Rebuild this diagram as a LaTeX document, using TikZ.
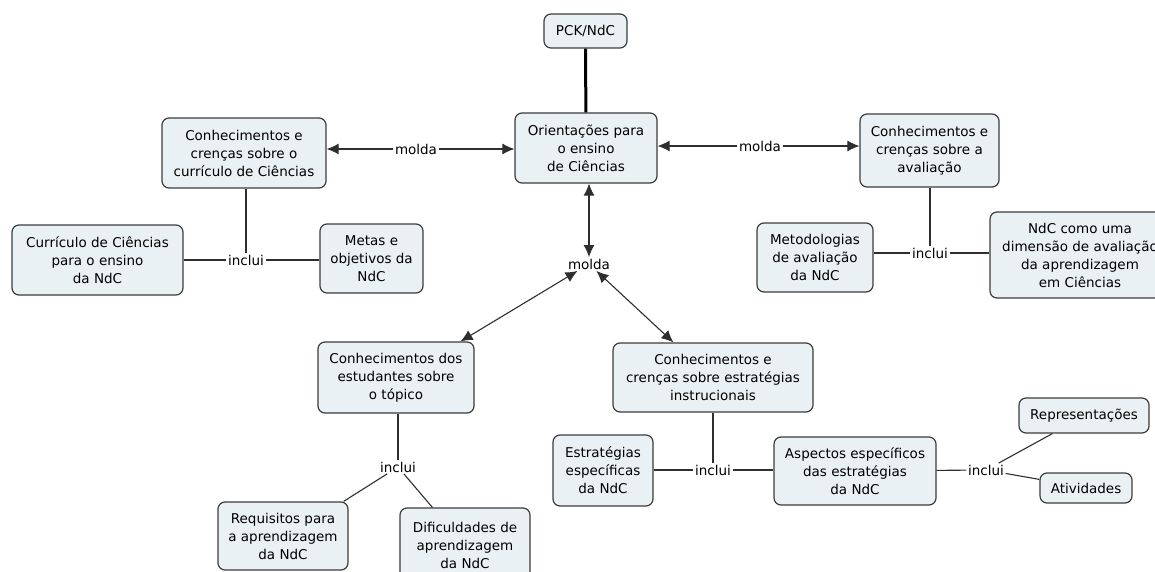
\documentclass[tikz,border=0pt]{standalone}
\usepackage{fontspec}
\setmainfont{DejaVu Sans}
\usetikzlibrary{arrows.meta,calc}
\definecolor{boxfill}{HTML}{EAF1F4}
\definecolor{boxline}{HTML}{3C3C3C}
\definecolor{edge}{HTML}{2E2E2E}
\begin{document}
\begin{tikzpicture}[x=1pt,y=-1pt,
  txt/.style={font=\fontsize{13.5}{18}\selectfont},
  box/.style={txt,draw=boxline,line width=1.2pt,fill=boxfill,rounded corners=7pt,align=center,inner sep=0pt},
  lbl/.style={txt,fill=white,inner sep=1.5pt},
  ln/.style={draw=edge,line width=1.1pt},
  tip/.tip={Latex[length=12pt,width=11pt]},
  arr/.style={ln,-tip},
  darr/.style={ln,tip-tip}]
\useasboundingbox (0,0) rectangle (1155,572);
\clip (0,0) rectangle (1155,572);

% concept boxes
\node[box,minimum width=83pt,minimum height=34pt] (PCK) at (585.5,31) {PCK/NdC};
\node[box,minimum width=142pt,minimum height=70pt] (Ori) at (586,148) {Orientações para\\o ensino\\de Ciências};
\node[box,minimum width=164pt,minimum height=70pt] (Cur) at (244,153) {Conhecimentos e\\crenças sobre o\\currículo de Ciências};
\node[box,minimum width=139pt,minimum height=73pt] (Ava) at (929.5,150.5) {Conhecimentos e\\crenças sobre a\\avaliação};
\node[box,minimum width=171pt,minimum height=70pt] (CurC) at (97.5,260) {Currículo de Ciências\\para o ensino\\da NdC};
\node[box,minimum width=103pt,minimum height=69pt] (Metas) at (371.5,258.5) {Metas e\\objetivos da\\NdC};
\node[box,minimum width=116pt,minimum height=69pt] (Metod) at (815,257.5) {Metodologias\\de avaliação\\da NdC};
\node[box,minimum width=180pt,minimum height=86pt] (NdC) at (1080,255) {NdC como uma\\dimensão de avaliação\\da aprendizagem\\em Ciências};
\node[box,minimum width=156pt,minimum height=71pt] (Est) at (396,377.5) {Conhecimentos dos\\estudantes sobre\\o tópico};
\node[box,minimum width=200pt,minimum height=69pt] (Estr) at (713,377.5) {Conhecimentos e\\crenças sobre estratégias\\instrucionais};
\node[box,minimum width=130pt,minimum height=68pt] (Req) at (283,536) {Requisitos para\\a aprendizagem\\da NdC};
\node[box,minimum width=130pt,minimum height=74pt] (Dif) at (465,545) {Dificuldades de\\aprendizagem\\da NdC};
\node[box,minimum width=100pt,minimum height=71pt] (EstEsp) at (603,470.5) {Estratégias\\específicas\\da NdC};
\node[box,minimum width=162pt,minimum height=68pt] (Asp) at (855,471) {Aspectos específicos\\das estratégias\\da NdC};
\node[box,minimum width=130pt,minimum height=35pt] (Rep) at (1084,415.5) {Representações};
\node[box,minimum width=92pt,minimum height=30pt] (Ativ) at (1086,488) {Atividades};

% linking phrases
\node[lbl] (moldaL) at (416,149) {molda};
\node[lbl] (moldaR) at (760,146) {molda};
\node[lbl] (moldaC) at (589,264) {molda};
\node[lbl] (incluiL) at (246,260) {inclui};
\node[lbl] (incluiR) at (930,253) {inclui};
\node[lbl] (incluiE) at (398,467) {inclui};
\node[lbl] (incluiM) at (713,470) {inclui};
\node[lbl] (incluiA) at (986,470) {inclui};

% connectors
\draw[line width=3pt,black] (PCK) -- (Ori);
\draw[arr] (moldaL) -- (moldaL -| Cur.east);
\draw[arr] (moldaL) -- (moldaL -| Ori.west);
\draw[arr] (moldaR) -- (moldaR -| Ori.east);
\draw[arr] (moldaR) -- (moldaR -| Ava.west);
\draw[darr] (moldaC |- Ori.south) -- (moldaC);
\draw[darr] (moldaC) -- ([xshift=-14pt]Est.north east);
\draw[darr] (moldaC) -- ([xshift=61pt]Estr.north west);

\draw[ln] (incluiL |- Cur.south) -- (incluiL);
\draw[ln] (incluiL) -- (incluiL -| CurC.east);
\draw[ln] (incluiL) -- (incluiL -| Metas.west);

\draw[ln] (incluiR |- Ava.south) -- (incluiR);
\draw[ln] (incluiR) -- (incluiR -| Metod.east);
\draw[ln] (incluiR) -- (incluiR -| NdC.west);

\draw[ln] (incluiE |- Est.south) -- (incluiE);
\draw[ln] (incluiE) -- ([xshift=-5pt]Req.north east);
\draw[ln] (incluiE) -- ([xshift=33pt]Dif.north west);

\draw[ln] (incluiM |- Estr.south) -- (incluiM);
\draw[ln] (incluiM) -- (incluiM -| EstEsp.east);
\draw[ln] (incluiM) -- (incluiM -| Asp.west);

\draw[ln] (Asp) -- (incluiA);
\draw[ln] (incluiA) -- ([xshift=34pt]Rep.south west);
\draw[ln] (incluiA) -- ([yshift=-7pt]Ativ.north west);
\end{tikzpicture}
\end{document}
